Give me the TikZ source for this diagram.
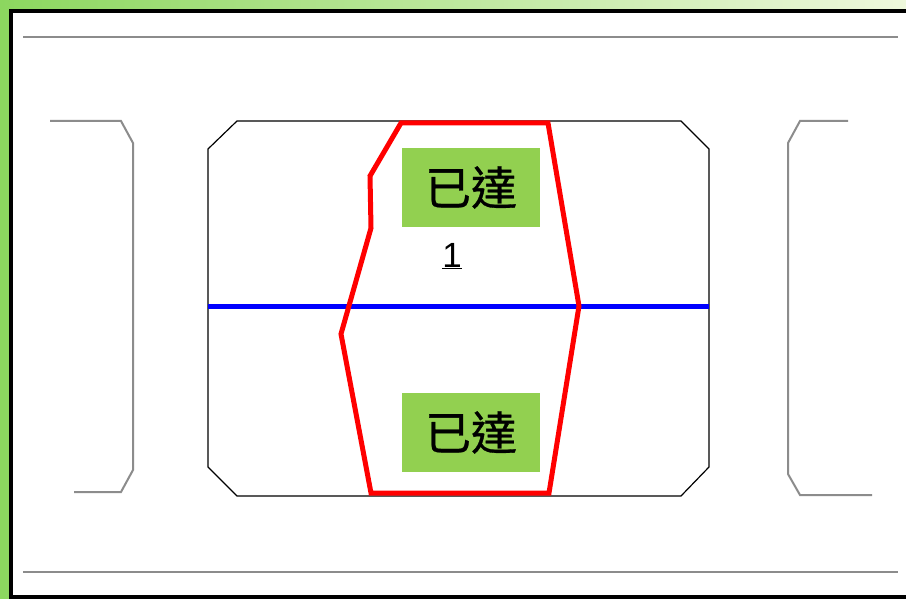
\documentclass[tikz,border=0pt]{standalone}
\usepackage{fontspec}
\setmainfont{Liberation Sans}
\newfontfamily\cjk[FakeBold=0.7]{Noto Sans CJK TC}
\definecolor{bggreen}{RGB}{140,215,95}
\definecolor{bgpale}{RGB}{238,248,220}
\definecolor{taggreen}{RGB}{146,208,80}
\tikzset{
  frameline/.style={gray!90,line width=2pt},
  tagbox/.style={fill=taggreen,minimum width=138pt,minimum height=79pt,inner sep=0pt,
    font=\cjk\fontsize{46}{46}\selectfont},
}

\begin{document}
\begin{tikzpicture}[x=1pt,y=-1pt]
\useasboundingbox (0,0) rectangle (906,599);
\clip (0,0) rectangle (906,599);
% background and border
\shade[left color=bggreen,right color=bgpale] (0,0) rectangle (906,599);
\fill[white] (11,11) rectangle (912,597);
\draw[line width=3.5pt] (11,11) rectangle (912,597);
% rails
\draw[frameline] (23,37) -- (898,37);
\draw[frameline] (23,572) -- (898,572);
% side brackets
\draw[frameline] (50,121) -- (121,121) -- (133,143) -- (133,470) -- (121,492) -- (74,492);
\draw[frameline] (848,121) -- (800,121) -- (788,143) -- (788,474) -- (800,495) -- (872,495);
% middle block
\draw[line width=1.2pt] (237,121) -- (681,121) -- (709,149) -- (709,467) -- (681,496)
  -- (237,496) -- (208,467) -- (208,149) -- cycle;
\draw[blue,line width=5pt] (208,306) -- (709,306);
\draw[red,line width=5pt,line join=miter] (401,123) -- (548,123) -- (579,306) -- (549,493)
  -- (371,493) -- (341,334) -- (371,228) -- (370,176) -- cycle;
% labels
\node[tagbox] (tagtop) at (471,187.5) {已達};
\node[tagbox] (tagbottom) at (471,432.5) {已達};
\node[font=\fontsize{35}{35}\selectfont] (num) at (452,256) {\underline{1}};
\end{tikzpicture}
\end{document}
